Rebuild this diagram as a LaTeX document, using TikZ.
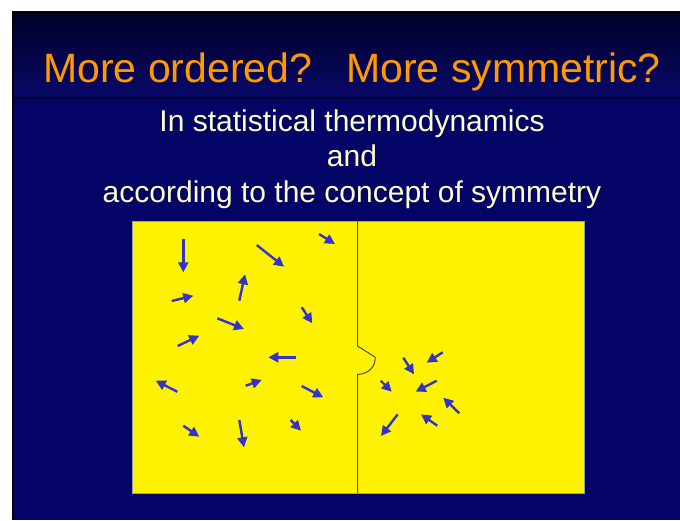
\documentclass[tikz,border=0pt]{standalone}
\usepackage{fontspec}
\setmainfont{Liberation Sans}
\usetikzlibrary{arrows.meta}

\definecolor{slidetop}{RGB}{0,0,40}
\definecolor{slidemid}{RGB}{8,8,104}
\definecolor{slideblue}{RGB}{4,4,102}
\definecolor{titleorange}{RGB}{255,153,0}
\definecolor{textyellow}{RGB}{255,255,204}
\definecolor{molblue}{RGB}{51,51,204}
\definecolor{boxedge}{RGB}{140,160,170}

\begin{document}
\begin{tikzpicture}[x=1pt,y=-1pt,
  mol/.style={line width=2.4pt,color=molblue,-{Triangle[length=10pt,width=10pt]}},
  subline/.style={anchor=base,text=textyellow,font=\fontsize{30}{36}\selectfont}]
\useasboundingbox (0,0) rectangle (680,520);
\fill[white] (0,0) rectangle (680,520);

\fill[slideblue] (12,97) rectangle (680,520);
\shade[top color=slidetop,bottom color=slidemid] (12,11) rectangle (680,97);
\draw[line width=2pt,color=black!85!blue] (12,97.5) -- (680,97.5);
\draw[line width=2pt,black] (13,520) -- (13,12) -- (680,12);

\node[anchor=base,text=titleorange,font=\fontsize{41}{48}\selectfont] (title) at (352,82)
  {More ordered?\ \ \ More symmetric?};
\node[subline] (line1) at (352,131) {In statistical thermodynamics};
\node[subline] (line2) at (352,166) {and};
\node[subline] (line3) at (352,202) {according to the concept of symmetry};

\draw[fill=yellow,draw=boxedge,line width=0.8pt] (132,221.5) rectangle (584,493);
\draw[line width=1pt,black!80!yellow] (357.5,221.5) -- (357.5,346) -- (375,357)
  .. controls (376,366) and (369,374) .. (357.5,374.5) -- (357.5,493);

\draw[mol] (183.3,239) -- (183.3,272.3);
\draw[mol] (256.7,245) -- (284,266.7);
\draw[mol] (319,234) -- (335,244);
\draw[mol] (171.7,301) -- (193.3,295.7);
\draw[mol] (239.3,300.7) -- (245,274.3);
\draw[mol] (301.7,307.3) -- (312.3,323.3);
\draw[mol] (217.3,318.3) -- (244,329);
\draw[mol] (177.7,346) -- (199.3,335.7);
\draw[mol] (295.7,357.3) -- (268.3,357.3);
\draw[mol] (177.3,391.7) -- (155.7,380.7);
\draw[mol] (245.7,385.7) -- (261.7,380);
\draw[mol] (301.7,386) -- (323.3,397.3);
\draw[mol] (183.3,425.7) -- (199.3,436.7);
\draw[mol] (239.3,420) -- (244,447.3);
\draw[mol] (290.7,420) -- (301,430.7);

\draw[mol] (403.3,357.7) -- (414,374.3);
\draw[mol] (442.7,352.3) -- (426.7,362.7);
\draw[mol] (380.7,380.7) -- (391.7,391.7);
\draw[mol] (436.7,380.7) -- (415.7,391.7);
\draw[mol] (459.3,413.3) -- (443.3,397.7);
\draw[mol] (437.3,425.7) -- (421,414.3);
\draw[mol] (397.7,414.3) -- (381,436);
\end{tikzpicture}
\end{document}
